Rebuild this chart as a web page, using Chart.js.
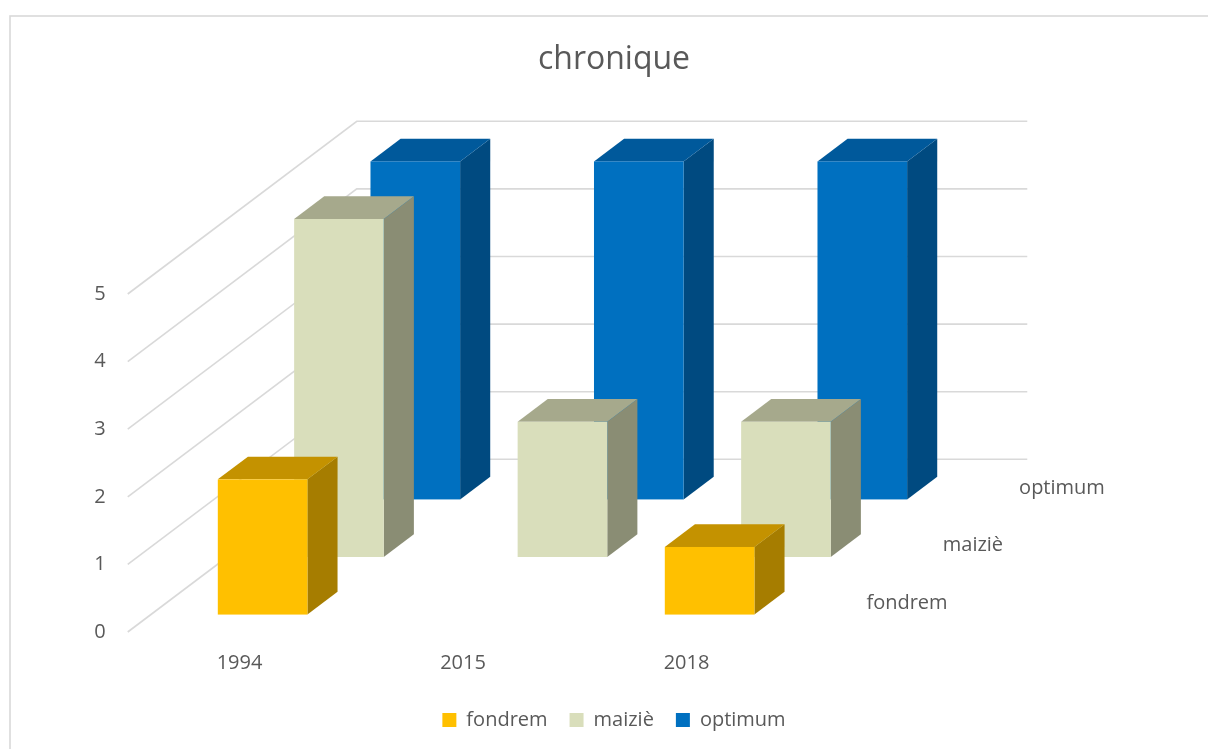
<!DOCTYPE html>
<html>
<head>
<meta charset="utf-8">
<script src="https://cdn.jsdelivr.net/npm/chart.js@4.4.1/dist/chart.umd.min.js"></script>
<style>
html,body{margin:0;padding:0;background:#fff;}
#wrap{width:1208px;height:749px;position:relative;}
</style>
</head>
<body>
<div id="wrap"><canvas id="c" width="1208" height="749"></canvas></div>
<script>
// ---- data ----
const categories = ['1994', '2015', '2018'];
const seriesNames = ['fondrem', 'maiziè', 'optimum'];
const fondrem = [2, null, 1];
const maizie = [5, 2, 2];
const optimum = [5, 5, 5];
const yTicks = [0, 1, 2, 3, 4, 5];
const chartTitle = 'chronique';

// ---- styles ----
const FONT = "'Open Sans', 'DejaVu Sans', sans-serif";
const TEXT = '#595959';
const GRID = '#D9D9D9';
const FRONT = ['#FFC000', '#D9DEBB', '#0070C0'];
const TOPC  = ['#C49200', '#A6A98C', '#00599B'];
const SIDE  = ['#A67D00', '#8A8D74', '#004A80'];

// geometry of the oblique projection (relative to the value scale)
const DEPTH_UNITS = 2.555;   // total floor depth, in value units (vertical px = units * px per unit)
const SLANT = 1.326;         // horizontal px per vertical px of depth
const BAR_DEPTH_FRAC = 0.1315; // bar depth as fraction of the total depth
const BAR_WIDTH_FRAC = 0.401;  // bar width as fraction of a category slot

const threeD = {
  id: 'threeD',
  beforeDraw(chart) {
    const ctx = chart.ctx;
    ctx.save();
    ctx.fillStyle = '#fff';
    ctx.fillRect(0, 0, chart.width, chart.height);
    ctx.strokeStyle = GRID;
    ctx.lineWidth = 1.6;
    ctx.strokeRect(10, 16, 1400, 900);
    ctx.restore();
  },
  beforeDatasetsDraw(chart) {
    const ctx = chart.ctx;
    const xs = chart.scales.x, ys = chart.scales.y;
    const area = chart.chartArea;
    const ppu = ys.getPixelForValue(0) - ys.getPixelForValue(1);
    const DY = DEPTH_UNITS * ppu;
    const DX = DY * SLANT;
    const nRows = seriesNames.length;
    const pitch = DY / nRows;
    const bdy = DY * BAR_DEPTH_FRAC;
    const bdx = bdy * SLANT;

    ctx.save();
    // walls
    ctx.strokeStyle = GRID;
    ctx.lineWidth = 1.6;
    yTicks.forEach(v => {
      const y = ys.getPixelForValue(v);
      ctx.beginPath();
      ctx.moveTo(area.left, y);
      ctx.lineTo(area.left + DX, y - DY);
      ctx.lineTo(area.right + DX, y - DY);
      ctx.stroke();
    });

    // bars, back rows first
    const slot = xs.getPixelForValue(1) - xs.getPixelForValue(0);
    const bw = slot * BAR_WIDTH_FRAC;
    const y0 = ys.getPixelForValue(0);
    for (let r = nRows - 1; r >= 0; r--) {
      const ds = chart.data.datasets[r];
      const dFront = (r + 0.5) * pitch - bdy / 2;
      ds.data.forEach((v, i) => {
        if (v === null || v === undefined) return;
        const cx = xs.getPixelForValue(i) + dFront * SLANT;
        const x0 = cx - bw / 2, x1 = cx + bw / 2;
        const yb = y0 - dFront;
        const yt = ys.getPixelForValue(v) - dFront;
        // side
        ctx.fillStyle = SIDE[r];
        ctx.beginPath();
        ctx.moveTo(x1, yt); ctx.lineTo(x1 + bdx, yt - bdy);
        ctx.lineTo(x1 + bdx, yb - bdy); ctx.lineTo(x1, yb); ctx.closePath();
        ctx.fill();
        // top
        ctx.fillStyle = TOPC[r];
        ctx.beginPath();
        ctx.moveTo(x0, yt); ctx.lineTo(x1, yt);
        ctx.lineTo(x1 + bdx, yt - bdy); ctx.lineTo(x0 + bdx, yt - bdy); ctx.closePath();
        ctx.fill();
        // front
        ctx.fillStyle = FRONT[r];
        ctx.fillRect(x0, yt, bw, yb - yt);
      });
    }

    // depth axis labels
    ctx.fillStyle = TEXT;
    ctx.font = '20px ' + FONT;
    ctx.textAlign = 'left';
    ctx.textBaseline = 'middle';
    seriesNames.forEach((name, r) => {
      const d = (r + 0.5) * pitch;
      ctx.fillText(name, area.right + d * SLANT + 30, y0 - d);
    });
    ctx.restore();
    return false;
  }
};

const ctx = document.getElementById('c').getContext('2d');
new Chart(ctx, {
  type: 'bar',
  data: {
    labels: categories,
    datasets: [
      { label: seriesNames[0], data: fondrem, backgroundColor: FRONT[0] },
      { label: seriesNames[1], data: maizie, backgroundColor: FRONT[1] },
      { label: seriesNames[2], data: optimum, backgroundColor: FRONT[2] }
    ]
  },
  options: {
    responsive: false,
    animation: false,
    events: [],
    layout: { padding: { left: 20, right: 0, top: 0, bottom: 9 } },
    plugins: {
      title: {
        display: true, text: chartTitle, color: TEXT,
        font: { family: FONT, size: 32, weight: 'normal' },
        padding: { top: 40.8, bottom: 214.8 }
      },
      legend: {
        position: 'bottom',
        labels: { boxWidth: 14, boxHeight: 14, padding: 22, color: TEXT, font: { family: FONT, size: 20 } }
      },
      tooltip: { enabled: false }
    },
    scales: {
      x: {
        grid: { display: false, drawTicks: false },
        border: { display: false },
        ticks: { color: TEXT, font: { family: FONT, size: 20 }, padding: 19 },
        afterFit(s) { s.height = 56; }
      },
      y: {
        min: 0, max: 5,
        grid: { display: false, drawTicks: false },
        border: { display: false },
        ticks: { stepSize: 1, color: TEXT, font: { family: FONT, size: 20 }, padding: 22 },
        afterFit(s) { s.width = 107.75; }
      },
      y2: {
        type: 'linear', position: 'right',
        grid: { display: false, drawTicks: false },
        border: { display: false },
        ticks: { display: false },
        afterFit(s) { s.width = 409.75; }
      }
    }
  },
  plugins: [threeD]
});
</script>
</body>
</html>
